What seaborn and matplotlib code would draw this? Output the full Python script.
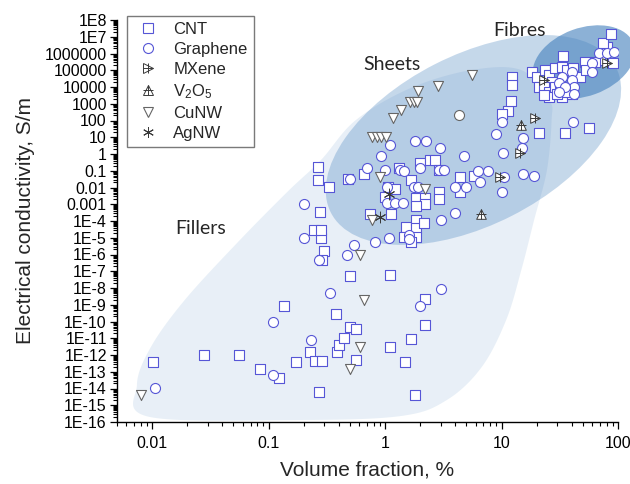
import numpy as np
import seaborn as sns
import matplotlib
matplotlib.use("Agg")
import matplotlib.pyplot as plt
from matplotlib.patches import Ellipse, Polygon
from matplotlib.transforms import ScaledTranslation
from matplotlib.lines import Line2D
from matplotlib.legend_handler import HandlerTuple
from matplotlib.ticker import FixedLocator, LogLocator, NullFormatter

# ---------------- data: volume fraction (%) vs electrical conductivity (S/m) ----------------
cnt_vf = [0.0102, 0.028, 0.056, 0.085, 0.122, 0.137, 0.171, 0.225, 0.25, 0.29, 0.27,
          0.39, 0.40, 0.44, 0.50, 0.56, 0.56, 0.38, 0.50, 1.10, 1.10, 1.49, 1.68, 1.81,
          2.2, 2.2, 0.30, 0.29, 0.28, 0.244, 0.28, 0.275, 0.264, 0.264, 0.33, 0.48, 0.66,
          1.32, 2.0, 2.44, 2.70, 1.68, 1.06, 1.22, 1.0, 1.85, 2.2, 2.2, 1.85, 2.92, 2.92,
          4.4, 4.4, 5.85, 1.13, 0.75, 1.52, 1.85, 1.85, 2.17, 1.46, 1.85, 1.68, 2.92,
          11.3, 10.0, 12.0, 12.2, 12.2, 20.8, 35.0, 56.0, 91.0,
          18.2, 20.0, 23.5, 25.4, 28.6, 32.9, 36.3, 40.9, 44.4, 47.0, 27.0, 20.8, 23.0,
          25.4, 28.6, 31.6, 34.2, 25.4, 32.9, 40.1, 23.0, 29.8, 36.3, 52.0, 53.0, 69.9,
          63.4, 80.4, 74.3, 87.1, 33.6]
cnt_sigma = [3.8e-13, 1.0e-12, 1.0e-12, 1.5e-13, 4.2e-14, 8.4e-10, 3.8e-13, 1.5e-12, 4.4e-13,
             4.4e-13, 6.2e-15, 1.5e-12, 4.0e-12, 1.0e-11, 4.7e-11, 3.6e-11, 5.0e-13, 2.8e-10,
             5.2e-8, 6.0e-8, 3.0e-12, 3.8e-13, 9.0e-12, 4.1e-15, 6.2e-11, 2.2e-9, 1.6e-6,
             4.4e-7, 9.7e-6, 2.9e-5, 2.9e-5, 3.4e-4, 0.168, 0.028, 0.0107, 0.032, 0.064,
             0.146, 0.29, 0.44, 0.44, 0.028, 0.0107, 0.0081, 2.7e-3, 2.4e-3, 2.4e-3, 1.0e-3,
             7.9e-4, 5.4e-3, 2.1e-3, 0.042, 5.4e-3, 0.049, 2.6e-4, 2.6e-4, 4.4e-5, 1.15e-4,
             3.8e-5, 7.6e-5, 1.1e-5, 1.1e-5, 5.6e-6, 0.111,
             370, 230, 1450, 4.0e4, 1.3e4, 18, 18, 36, 2.7e5,
             7.9e4, 4.0e4, 1.0e5, 5.2e4, 1.36e5, 1.56e5, 1.0e5, 1.36e5, 4.0e4, 4.0e4, 2.0e4,
             1.0e4, 1.0e4, 5.0e3, 1.0e4, 1.3e4, 5.0e3, 2.5e3, 2.5e3, 3.8e3, 3.3e3, 3.8e3,
             5.0e3, 3.1e5, 1.0e5, 4.1e5, 3.1e5, 2.4e6, 4.2e6, 1.46e7, 7.1e5]

graphene_vf = [0.0107, 0.11, 0.11, 0.23, 0.20, 0.20, 0.27, 0.47, 0.54, 0.82, 1.08, 1.61, 1.61,
               0.34, 3.04, 2.0, 0.92, 0.70, 1.0, 1.35, 1.46, 2.0, 1.04, 1.78, 1.92, 1.04, 1.22,
               1.43, 1.10, 1.82, 2.26, 2.98, 4.8, 0.50, 2.92, 3.22, 4.0, 5.0, 4.0, 3.04,
               10.0, 8.9, 15.2, 10.2, 14.9, 6.3, 7.7, 6.6, 10.4, 15.2, 18.9, 10.0, 40.9,
               40.1, 40.1, 41.8, 41.8, 32.9, 31.0, 34.9, 31.0, 59.7, 59.7, 68.5, 80.4, 92.5]
graphene_sigma = [1.07e-14, 9.3e-11, 6.4e-14, 7.9e-12, 1.0e-3, 9.7e-6, 4.7e-7, 9.3e-7, 3.7e-6,
                  5.6e-6, 9.7e-6, 1.46e-5, 8.4e-6, 5.0e-9, 8.7e-9, 8.4e-10, 0.76, 0.146, 0.11,
                  0.11, 0.097, 0.146, 0.0107, 0.0107, 0.0107, 1.19e-3, 1.19e-3, 1.19e-3, 3.4,
                  6.0, 6.0, 2.3, 0.76, 0.032, 0.11, 0.11, 0.0107, 0.0107, 3.0e-4, 1.15e-4,
                  81, 15.6, 9.0, 1.15, 2.3, 0.097, 0.097, 0.021, 0.042, 0.064, 0.049, 5.4e-3,
                  81, 7.9e4, 2.6e4, 1.0e4, 3.8e3, 4.0e4, 1.7e4, 1.0e4, 5.0e3, 2.7e5, 7.9e4,
                  1.07e6, 1.07e6, 1.23e6]

mxene_vf = [19.4, 14.3, 9.8, 80.4, 23.0]
mxene_sigma = [140, 1.15, 0.042, 2.7e5, 2.6e4]

v2o5_vf = [14.6, 6.7]
v2o5_sigma = [54, 2.6e-4]

cunw_vf = [0.008, 0.61, 0.66, 0.61, 0.50, 0.90, 0.78, 2.2, 0.78, 0.85, 0.93, 1.02, 1.17,
           1.37, 1.64, 1.78, 1.89, 1.92, 2.86, 5.6]
cunw_sigma = [4.1e-15, 9.3e-7, 1.9e-9, 3.0e-12, 1.46e-13, 0.042, 1.15e-4, 8.1e-3, 10.4, 10.4,
              10.4, 10.4, 141, 420, 1270, 1270, 1270, 5800, 1.15e4, 5.2e4]

agnw_vf = [1.08, 0.90]
agnw_sigma = [4.1e-3, 1.7e-4]

other_vf = [4.3]
other_sigma = [210]

ytick_values = [1e8, 1e7, 1e6, 1e5, 1e4, 1e3, 1e2, 1e1, 1e0, 1e-1, 1e-2, 1e-3, 1e-4, 1e-5,
                1e-6, 1e-7, 1e-8, 1e-9, 1e-10, 1e-11, 1e-12, 1e-13, 1e-14, 1e-15, 1e-16]
ytick_labels = ["1E8", "1E7", "1000000", "100000", "10000", "1000", "100", "10", "1", "0.1",
                "0.01", "0.001", "1E-4", "1E-5", "1E-6", "1E-7", "1E-8", "1E-9", "1E-10",
                "1E-11", "1E-12", "1E-13", "1E-14", "1E-15", "1E-16"]
xtick_values = [0.01, 0.1, 1, 10, 100]
xtick_labels = ["0.01", "0.1", "1", "10", "100"]

# outline of the "Fillers" zone, in log10(volume fraction), log10(conductivity)
fillers_outline_log = [(-2.02, -15.70), (-0.72, -15.88), (0.14, -15.64), (0.53, -14.69),
                       (0.83, -12.72), (1.04, -9.91), (1.17, -6.93), (1.28, -3.94),
                       (1.39, -0.96), (1.43, 2.03), (1.41, 3.22), (1.17, 5.01),
                       (0.74, 5.01), (0.22, 3.94), (-0.25, 2.03), (-0.55, -0.36),
                       (-0.84, -2.27), (-1.27, -5.31), (-1.72, -8.72), (-2.01, -11.52),
                       (-2.13, -13.79)]

# ---------------- style ----------------
sns.set_style("ticks")
plt.rcParams["font.family"] = ["Liberation Sans", "DejaVu Sans"]
plt.rcParams["mathtext.default"] = "regular"

blue = "#5656d6"
dark = "#3a3a3a"
grey = "#666666"
zone = "#4682be"

fig = plt.figure(figsize=(6.3, 4.84), dpi=100)
ax = fig.add_axes([117 / 630, 1 - 422 / 484, 501 / 630, 402 / 484])
ax.set_xscale("log")
ax.set_yscale("log")
ax.set_xlim(0.005, 100)
ax.set_ylim(1e-16, 1e8)


def smooth_closed(points, n=40):
    p = np.asarray(points, float)
    m = len(p)
    t = np.linspace(0, 1, n, endpoint=False)[:, None]
    segs = []
    for i in range(m):
        p0, p1, p2, p3 = p[i - 1], p[i], p[(i + 1) % m], p[(i + 2) % m]
        segs.append(0.5 * (2 * p1 + (-p0 + p2) * t + (2 * p0 - 5 * p1 + 4 * p2 - p3) * t ** 2
                           + (-p0 + 3 * p1 - 3 * p2 + p3) * t ** 3))
    return np.vstack(segs)


fill_xy = 10.0 ** smooth_closed(fillers_outline_log)
ax.add_patch(Polygon(fill_xy, closed=True, facecolor=zone, alpha=0.12, lw=0, zorder=0.5,
                     clip_on=False))


def zone_ellipse(xc, yc, w_in, h_in, angle, alpha):
    tr = fig.dpi_scale_trans + ScaledTranslation(xc, yc, ax.transData)
    e = Ellipse((0, 0), w_in, h_in, angle=angle, transform=tr, facecolor=zone,
                alpha=alpha, lw=0, zorder=0.6, clip_on=False)
    ax.add_artist(e)


zone_ellipse(5.74, 6.86, 3.2, 1.7, 27, 0.31)      # sheets
zone_ellipse(50.9, 3.1e5, 1.06, 0.68, 20, 0.62)   # fibres

# ---------------- points ----------------
sns.scatterplot(x=cnt_vf, y=cnt_sigma, marker="s", s=42, color="white", edgecolor=blue,
                linewidth=0.8, ax=ax, zorder=3)
sns.scatterplot(x=graphene_vf, y=graphene_sigma, marker="o", s=52, color="white",
                edgecolor=blue, linewidth=0.8, ax=ax, zorder=3)
sns.scatterplot(x=other_vf, y=other_sigma, marker="o", s=52, color="white",
                edgecolor=grey, linewidth=0.8, ax=ax, zorder=3)
sns.scatterplot(x=cunw_vf, y=cunw_sigma, marker="v", s=52, color="white", edgecolor=grey,
                linewidth=0.8, ax=ax, zorder=3.2)
sns.scatterplot(x=mxene_vf, y=mxene_sigma, marker=">", s=48, color="white", edgecolor=dark,
                linewidth=0.7, ax=ax, zorder=3.3)
sns.scatterplot(x=mxene_vf, y=mxene_sigma, marker="+", s=60, color=dark, edgecolor=None,
                linewidth=0.7, ax=ax, zorder=3.4)
sns.scatterplot(x=v2o5_vf, y=v2o5_sigma, marker="^", s=48, color="white", edgecolor=dark,
                linewidth=0.7, ax=ax, zorder=3.3)
sns.scatterplot(x=v2o5_vf, y=v2o5_sigma, marker="+", s=60, color=dark, edgecolor=None,
                linewidth=0.7, ax=ax, zorder=3.4)
sns.scatterplot(x=agnw_vf, y=agnw_sigma, marker=(6, 2, 0), s=60, color=dark, edgecolor=None,
                linewidth=0.7, ax=ax, zorder=3.4)

# ---------------- axes ----------------
ax.yaxis.set_major_locator(FixedLocator(ytick_values))
ax.set_yticklabels(ytick_labels)
ax.yaxis.set_minor_locator(LogLocator(base=10, subs=np.arange(2, 10), numticks=60))
ax.yaxis.set_minor_formatter(NullFormatter())
ax.xaxis.set_major_locator(FixedLocator(xtick_values))
ax.set_xticklabels(xtick_labels)
ax.xaxis.set_minor_locator(LogLocator(base=10, subs=np.arange(2, 10), numticks=60))
ax.xaxis.set_minor_formatter(NullFormatter())
ax.set_xlim(0.005, 100)
ax.set_ylim(1e-16, 1e8)

ax.tick_params(which="major", direction="out", length=4.8, width=0.9, color="black",
               labelsize=11.5, labelcolor="black")
ax.tick_params(which="minor", direction="out", length=2.6, width=0.8, color="black")
ax.tick_params(axis="y", which="major", pad=2.5)
ax.tick_params(axis="x", which="major", pad=5)
sns.despine(ax=ax)
for side in ("left", "bottom"):
    ax.spines[side].set_linewidth(1.0)
    ax.spines[side].set_color("black")

ax.set_xlabel("Volume fraction, %", fontsize=15)
ax.set_ylabel("Electrical conductivity, S/m", fontsize=15)
ax.xaxis.set_label_coords(0.5, -0.097)
ax.yaxis.set_label_coords(-0.163, 0.5)

zone_font = ["Lato", "DejaVu Sans"]
ax.text(0.026, 3.8e-5, "Fillers", family=zone_font, fontsize=14, ha="center", va="center")
ax.text(1.15, 2.36e5, "Sheets", family=zone_font, fontsize=14, ha="center", va="center")
ax.text(14.3, 2.5e7, "Fibres", family=zone_font, fontsize=14, ha="center", va="center",
        clip_on=False)

# ---------------- legend ----------------
def mk(marker, mfc, mec, ms, mew=0.8):
    return Line2D([], [], ls="", marker=marker, markerfacecolor=mfc, markeredgecolor=mec,
                  markersize=ms, markeredgewidth=mew)


handles = [
    mk("s", "white", blue, 6.5),
    mk("o", "white", blue, 7.2),
    (mk(">", "white", dark, 7.0, 0.7), mk("+", dark, dark, 7.8, 0.7)),
    (mk("^", "white", dark, 7.0, 0.7), mk("+", dark, dark, 7.8, 0.7)),
    mk("v", "white", grey, 7.2),
    mk((6, 2, 0), dark, dark, 7.8, 0.7),
]
labels = ["CNT", "Graphene", "MXene", "V$_2$O$_5$", "CuNW", "AgNW"]
leg = ax.legend(handles, labels, loc="upper left", bbox_to_anchor=(0.02, 1.01),
                borderaxespad=0, fontsize=12, frameon=True, fancybox=False, framealpha=1,
                edgecolor="#7a7a7a", handlelength=1.8, handletextpad=0.6,
                labelspacing=0.3, borderpad=0.38,
                handler_map={tuple: HandlerTuple(ndivide=1)})
leg.get_frame().set_linewidth(1.0)
leg.set_zorder(5)

fig.savefig("out.png", dpi=100)
